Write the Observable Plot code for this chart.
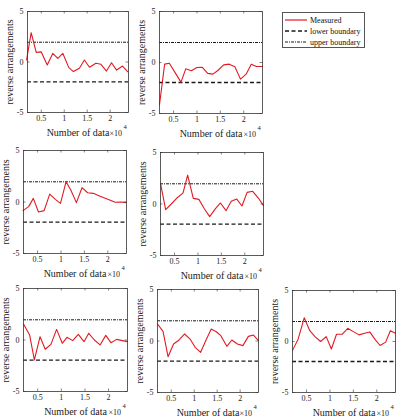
<!DOCTYPE html>
<html>
<head>
<meta charset="utf-8">
<script src="https://cdn.jsdelivr.net/npm/d3@7"></script>
<script src="https://cdn.jsdelivr.net/npm/@observablehq/plot@0.6"></script>
<style>
  html, body { margin: 0; padding: 0; background: #fff; }
  #root { position: relative; width: 403px; height: 418px; overflow: hidden; background: #fff; font-family: "Liberation Serif", serif; }
  #root svg { position: absolute; }
  .legend { position: absolute; left: 282px; top: 12px; width: 81px; height: 34px; border: 1px solid #555; background: #fff; font-size: 8px; color: #111; }
  .legend .row { position: absolute; left: 2px; height: 10px; display: flex; align-items: center; }
  .legend .row span { margin-left: 3px; white-space: nowrap; }
</style>
</head>
<body>
<div id="root"></div>
<script>
// ---- data (x in units of 10^4 data points, y = reverse-arrangement statistic) ----
const xTicks = [0.5, 1, 1.5, 2];
const yTicks = [-5, 0, 5];
const xDomain = [0.2, 2.4];
const yDomain = [-5, 5];
const upperBoundary = 1.96;
const lowerBoundary = -1.96;

const x1 = [0.18,0.28,0.39,0.5,0.63,0.75,0.86,0.97,1.1,1.2,1.33,1.44,1.55,1.69,1.8,1.92,2.03,2.14,2.27,2.38];
const y1 = [0.2,2.9,0.95,1.0,-0.3,0.85,0.36,0.85,-0.56,-0.95,-0.62,0.2,-0.52,-0.13,-0.23,-0.9,-0.07,-0.8,-0.4,-0.95];

const x2 = [0.2,0.31,0.41,0.54,0.66,0.76,0.88,1.0,1.11,1.23,1.34,1.44,1.57,1.69,1.81,1.93,2.05,2.16,2.27,2.4];
const y2 = [-4.14,-0.16,-0.07,-1.04,-1.92,-0.62,-0.81,-0.49,-0.46,-1.07,-1.14,-0.81,-0.23,-0.16,-0.42,-1.63,-1.14,-0.16,-0.39,-0.39];

const x3 = [0.19,0.31,0.41,0.52,0.64,0.76,0.88,0.99,1.11,1.21,1.33,1.45,1.57,1.69,1.81,1.93,2.04,2.16,2.28,2.4];
const y3 = [-0.84,-0.45,0.35,-0.97,-0.84,0.77,0.26,-0.13,1.97,1.16,-0.06,1.39,0.9,0.84,0.61,0.39,0.19,-0.03,0,-0.06];

const x4 = [0.2,0.31,0.43,0.55,0.68,0.78,0.9,1.02,1.14,1.25,1.37,1.48,1.6,1.71,1.83,1.94,2.05,2.17,2.29,2.4];
const y4 = [2.0,-0.55,0,0.58,1.06,2.8,0.55,0.45,-0.48,-1.23,-0.48,0.1,-0.65,0.26,0.48,-0.19,1.13,1.23,0.58,-0.16];

const x5 = [0.2,0.33,0.43,0.55,0.66,0.78,0.9,1.02,1.12,1.24,1.36,1.48,1.58,1.7,1.82,1.94,2.05,2.17,2.29,2.4];
const y5 = [1.55,0.48,-1.94,0.32,-0.9,-0.42,1.03,-0.32,0.26,-0.06,0.55,-0.16,0.65,0,-0.48,0.45,-0.26,0.06,-0.06,-0.16];

const x6 = [0.2,0.32,0.43,0.55,0.67,0.79,0.91,1.02,1.14,1.25,1.37,1.48,1.58,1.71,1.82,1.94,2.06,2.18,2.29,2.4];
const y6 = [1.65,0.94,-1.52,-0.29,0.1,0.68,0.19,-0.61,-1.1,0.03,1.16,0.9,0.52,-0.52,0.1,-0.29,-0.45,0.45,0.58,0.03];

const x7 = [0.2,0.32,0.45,0.57,0.68,0.8,0.92,1.03,1.14,1.26,1.38,1.5,1.62,1.74,1.85,1.97,2.07,2.19,2.29,2.4];
const y7 = [-0.87,0.23,2.32,1.06,0.48,0,0.48,-0.74,0.71,0.71,1.29,0.97,0.65,0.81,0.94,0.16,-0.39,-0.06,1.06,0.81];

const yLabel = "reverse arrangements";
const xLabel = "Number of data";
const expBase = "×10";
const expPow = "4";
const legendLabels = ["Measured", "lower boundary", "upper boundary"];

// ---- layout (frame boxes in page pixels) ----
const panels = [
  {xs: x1, ys: y1, l: 27,  t: 11,  r: 128, b: 112},
  {xs: x2, ys: y2, l: 159, t: 11,  r: 262, b: 113},
  {xs: x3, ys: y3, l: 23,  t: 150, r: 126, b: 253},
  {xs: x4, ys: y4, l: 160, t: 152, r: 263, b: 255},
  {xs: x5, ys: y5, l: 23,  t: 288, r: 127, b: 391},
  {xs: x6, ys: y6, l: 157, t: 289, r: 258, b: 392},
  {xs: x7, ys: y7, l: 292, t: 290, r: 395, b: 392}
];

const RED = "#e01b22";
const INK = "#1a1a1a";
const UPPER_DASH = "3,1,1,1";
const LOWER_DASH = "4,2.5";
const root = document.getElementById("root");
const mL = 23, mT = 6, mR = 8, mB = 34;

for (const p of panels) {
  const data = p.xs.map((x, i) => ({x, y: p.ys[i]}));
  const fw = p.r - p.l, fh = p.b - p.t;
  const svg = Plot.plot({
    width: fw + mL + mR,
    height: fh + mT + mB,
    marginLeft: mL, marginTop: mT, marginRight: mR, marginBottom: mB,
    style: {fontFamily: "Liberation Serif", fontSize: "8px", background: "transparent", overflow: "visible", color: INK},
    x: {domain: xDomain},
    y: {domain: yDomain},
    marks: [
      Plot.ruleY([upperBoundary], {stroke: INK, strokeWidth: 1, strokeDasharray: UPPER_DASH}),
      Plot.ruleY([lowerBoundary], {stroke: INK, strokeWidth: 1.3, strokeDasharray: LOWER_DASH}),
      Plot.line(data, {x: "x", y: "y", stroke: RED, strokeWidth: 1.1}),
      Plot.frame({stroke: "#333", strokeWidth: 0.8}),
      Plot.tickX(xTicks, {x: d => d, insetTop: fh - 2.5, stroke: "#333", strokeWidth: 0.6}),
      Plot.tickX(xTicks, {x: d => d, insetBottom: fh - 2.5, stroke: "#333", strokeWidth: 0.6}),
      Plot.tickY(yTicks, {y: d => d, insetRight: fw - 2.5, stroke: "#333", strokeWidth: 0.6}),
      Plot.tickY(yTicks, {y: d => d, insetLeft: fw - 2.5, stroke: "#333", strokeWidth: 0.6}),
      Plot.axisX({ticks: xTicks, tickSize: 0, tickPadding: 3, tickFormat: d => String(d), label: null, fill: INK}),
      Plot.axisY({ticks: yTicks, tickSize: 0, tickPadding: 4, tickFormat: d => String(d), label: null, fill: INK}),
      Plot.text([yLabel], {text: d => d, frameAnchor: "left", textAnchor: "middle", lineAnchor: "middle", rotate: -90, dx: -18, fontSize: 10, fill: INK}),
      Plot.text([xLabel], {text: d => d, frameAnchor: "bottom", textAnchor: "middle", lineAnchor: "middle", dy: 20, fontSize: 10, fill: INK}),
      Plot.text([expBase], {text: d => d, frameAnchor: "bottom-right", textAnchor: "start", lineAnchor: "middle", dx: -19, dy: 21, fontSize: 8, fill: INK}),
      Plot.text([expPow], {text: d => d, frameAnchor: "bottom-right", textAnchor: "start", lineAnchor: "middle", dx: -5, dy: 14, fontSize: 6.5, fill: INK})
    ]
  });
  svg.style.left = (p.l - mL) + "px";
  svg.style.top = (p.t - mT) + "px";
  root.appendChild(svg);
}

// ---- legend ----
const legend = document.createElement("div");
legend.className = "legend";
const styles = [
  {stroke: RED, dash: null, w: 1.2},
  {stroke: INK, dash: LOWER_DASH, w: 1.3},
  {stroke: INK, dash: UPPER_DASH, w: 1}
];
legendLabels.forEach((lab, i) => {
  const row = document.createElement("div");
  row.className = "row";
  row.style.top = (2 + i * 11) + "px";
  const s = styles[i];
  row.innerHTML = `<svg width="22" height="6" style="position:static"><line x1="0" x2="22" y1="3" y2="3" stroke="${s.stroke}" stroke-width="${s.w}" ${s.dash ? `stroke-dasharray="${s.dash}"` : ""}/></svg><span>${lab}</span>`;
  legend.appendChild(row);
});
root.appendChild(legend);
</script>
</body>
</html>
